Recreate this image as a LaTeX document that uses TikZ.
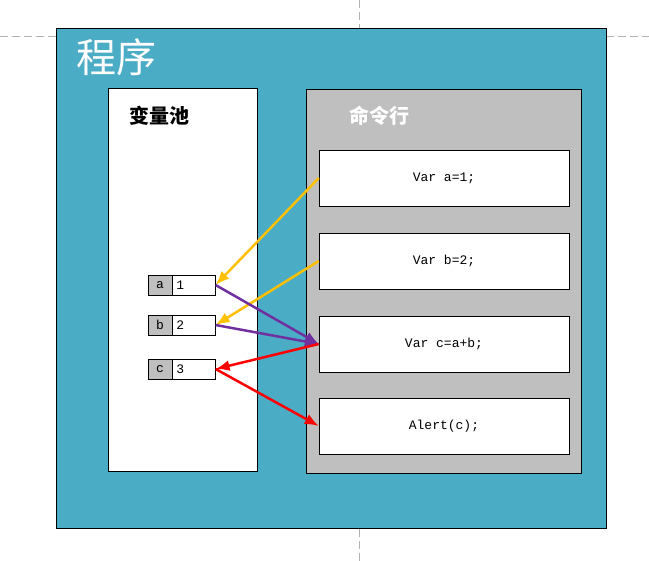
\documentclass[tikz,border=0pt]{standalone}
\usepackage{fontspec}
\setmonofont{Liberation Mono}
\newfontfamily\cjk{Noto Sans CJK SC}
\usetikzlibrary{arrows.meta,positioning}
\definecolor{progblue}{RGB}{75,172,198}
\definecolor{boxgray}{RGB}{191,191,191}
\definecolor{yarrow}{RGB}{255,192,0}
\definecolor{parrow}{RGB}{112,48,160}
\tikzset{
  cmd/.style={draw, fill=white, minimum width=250pt, minimum height=56pt, inner sep=0pt,
    font=\ttfamily\fontsize{13}{13}\selectfont},
  namecell/.style={draw, fill=boxgray, minimum width=24pt, minimum height=20pt, inner sep=0pt,
    font=\ttfamily\fontsize{13}{13}\selectfont},
  valcell/.style={draw, fill=white, text width=35pt, inner xsep=4pt, minimum height=20pt, inner ysep=0pt,
    align=left, font=\ttfamily\fontsize{13}{13}\selectfont},
  link/.style={line width=2.5pt, -{Latex[length=14pt,width=11pt]}},
}
\begin{document}
\begin{tikzpicture}[x=1pt,y=-1pt]
\useasboundingbox (0,0) rectangle (649,561);
	% guide lines of the slide
	\draw[black!30, dash pattern=on 8pt off 4pt] (0,36) to (56,36); \draw[black!30, dash pattern=on 8pt off 4pt] (606,36) to (649,36);
	\draw[black!30, dash pattern=on 8pt off 4pt] (359,0) to (359,29); \draw[black!30, dash pattern=on 8pt off 4pt] (359,529) to (359,561);

	\draw[fill=progblue, line width=1pt] (56,29) rectangle (606,529);
	\node[text=white, font=\cjk\fontsize{40}{40}\selectfont] (prog) at (116,57) {程序};

	\draw[fill=white, line width=0.8pt] (108,88) rectangle (257,471);
	\node[font=\cjk\bfseries\fontsize{20}{20}\selectfont] (pool) at (159,116) {变量池};

	\draw[fill=boxgray, line width=0.8pt] (306,89) rectangle (581,473);
	\node[text=white, font=\cjk\bfseries\fontsize{20}{20}\selectfont] (cmds) at (379,116) {命令行};

	\node[cmd] (c1) at (444,178) {Var a=1;};
	\node[cmd] (c2) at (444,261) {Var b=2;};
	\node[cmd] (c3) at (444,344) {Var c=a+b;};
	\node[cmd] (c4) at (444,426) {Alert(c);};

	\node[namecell] (na) at (160,285) {a}; \node[valcell, right=0pt of na] (va) {1};
	\node[namecell] (nb) at (160,325) {b}; \node[valcell, right=0pt of nb] (vb) {2};
	\node[namecell] (nc) at (160,369) {c}; \node[valcell, right=0pt of nc] (vc) {3};

	\draw[link, yarrow] (c1.west) -- (va.east);
	\draw[link, yarrow] (c2.west) -- (vb.east);
	\draw[link, parrow] (va.east) -- (c3.west);
	\draw[link, parrow] (vb.east) -- (c3.west);
	\draw[link, red] (c3.west) -- (vc.east);
	\draw[link, red] (vc.east) -- (c4.west);
\end{tikzpicture}
\end{document}
